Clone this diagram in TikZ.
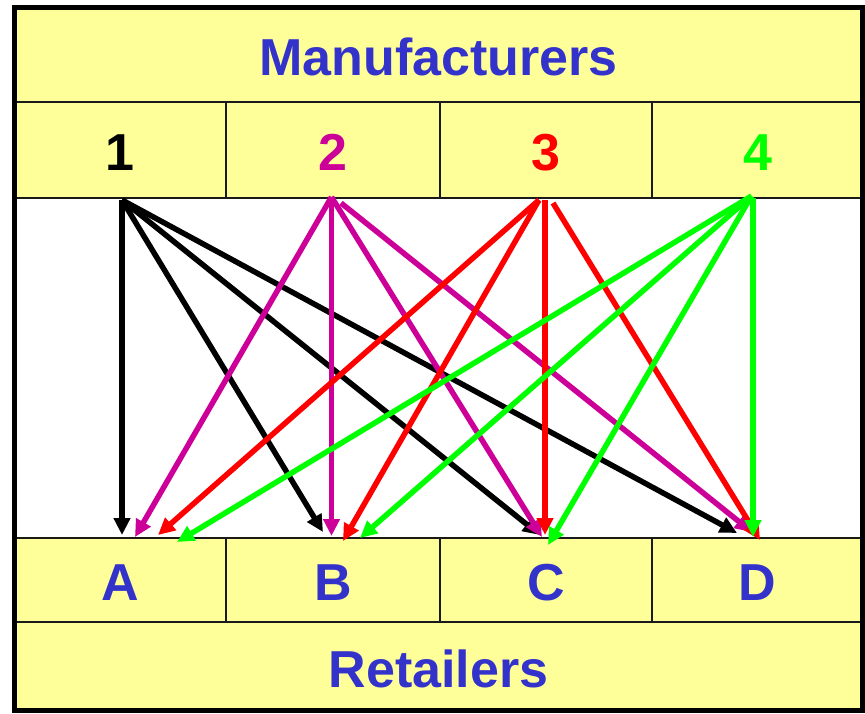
\documentclass[tikz,border=0pt]{standalone}
\usepackage{fontspec}
\setmainfont{Liberation Sans}
\usetikzlibrary{arrows.meta}
\definecolor{cellyellow}{HTML}{FFFF99}
\definecolor{labelblue}{HTML}{3333CC}
\definecolor{mag}{HTML}{CC0099}
\definecolor{red2}{HTML}{FF0000}
\definecolor{grn}{HTML}{00FF00}
\definecolor{edge}{HTML}{1A1A1A}
\tikzset{
  cell/.style={draw=edge, line width=2pt, fill=cellyellow, inner sep=0pt, outer sep=0pt,
    text height=41pt, text depth=0pt,
    font=\fontsize{52pt}{60pt}\selectfont\bfseries},
  flow/.style={line width=5.5pt, -{Triangle[length=17pt,width=16pt]}},
}
\begin{document}
\begin{tikzpicture}[x=1pt,y=-1pt]
\useasboundingbox (0,0) rectangle (865,713);
% bands
\node[cell, minimum width=849pt, minimum height=94.5pt, text=labelblue] (manu) at (438.5,54.75) {Manufacturers};
\node[cell, minimum width=212pt, minimum height=96pt] (n1) at (120,150) {1};
\node[cell, minimum width=214pt, minimum height=96pt, text=mag] (n2) at (333,150) {2};
\node[cell, minimum width=212pt, minimum height=96pt, text=red2] (n3) at (546,150) {3};
\node[cell, minimum width=211pt, minimum height=96pt, text=grn] (n4) at (757.5,150) {4};
\node[draw=edge, line width=2pt, fill=white, minimum width=849pt, minimum height=340pt, inner sep=0pt] (mid) at (438.5,368) {};
\node[cell, minimum width=212pt, minimum height=84pt, text=labelblue] (rA) at (120,580) {A};
\node[cell, minimum width=214pt, minimum height=84pt, text=labelblue] (rB) at (333,580) {B};
\node[cell, minimum width=212pt, minimum height=84pt, text=labelblue] (rC) at (546,580) {C};
\node[cell, minimum width=211pt, minimum height=84pt, text=labelblue] (rD) at (757.5,580) {D};
\node[cell, minimum width=849pt, minimum height=89pt, text=labelblue] (ret) at (438.5,666.5) {Retailers};
% outer border
\draw[line width=5pt] (14,7.5) rectangle (862.5,710.5);
% start points
\coordinate (s1) at (122,200);
\coordinate (s2) at (331.5,197);
\coordinate (s2d) at (341,203);
\coordinate (s3) at (539,200);
\coordinate (s3v) at (545,200);
\coordinate (s3d) at (553,203);
\coordinate (s4) at (751.5,196);
\coordinate (s4v) at (753,198);
% end points
\coordinate (e1A) at (122,535);
\coordinate (e1B) at (323,532);
\coordinate (e1C) at (540,535);
\coordinate (e1D) at (737,533);
\coordinate (e2A) at (135,537);
\coordinate (e2B) at (331.5,536);
\coordinate (e2C) at (542,537);
\coordinate (e2D) at (752,532);
\coordinate (e3A) at (158,535);
\coordinate (e3B) at (343,541);
\coordinate (e3C) at (545,535);
\coordinate (e3D) at (760,540);
\coordinate (e4A) at (177,542);
\coordinate (e4B) at (360,538);
\coordinate (e4C) at (548,545);
\coordinate (e4D) at (753,537);
% arrows
\draw[flow, black] (s1) -- (e1A);
\draw[flow, black] (s1) -- (e1B);
\draw[flow, black] (s1) -- (e1C);
\draw[flow, black] (s1) -- (e1D);
\draw[flow, mag] (s2) -- (e2A);
\draw[flow, mag] (s2) -- (e2B);
\draw[flow, mag] (s2) -- (e2C);
\draw[flow, mag] (s2d) -- (e2D);
\draw[flow, red2] (s3) -- (e3A);
\draw[flow, red2] (s3) -- (e3B);
\draw[flow, red2] (s3v) -- (e3C);
\draw[flow, red2] (s3d) -- (e3D);
\draw[flow, grn] (s4) -- (e4A);
\draw[flow, grn] (s4) -- (e4B);
\draw[flow, grn] (s4) -- (e4C);
\draw[flow, grn] (s4v) -- (e4D);
\end{tikzpicture}
\end{document}
